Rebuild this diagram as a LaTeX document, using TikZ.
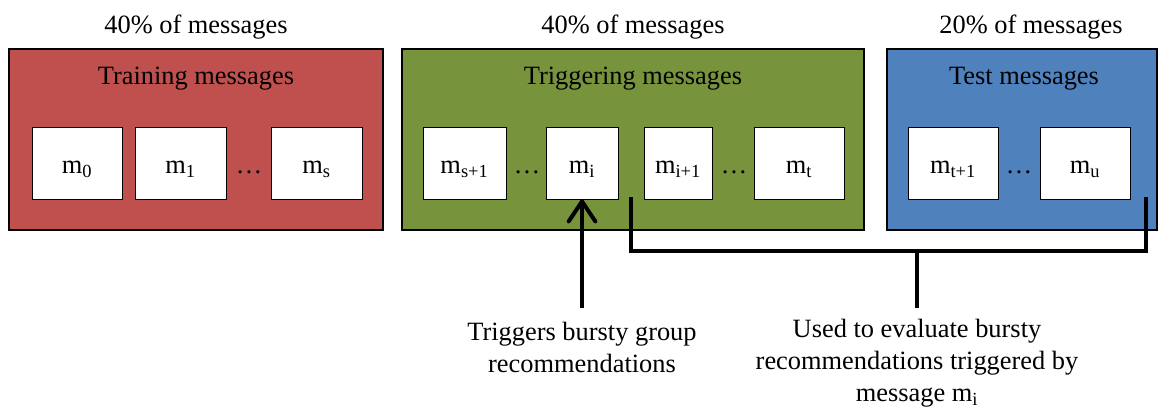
\documentclass[tikz,border=0pt]{standalone}
\usepackage{fontspec}
\setmainfont{Liberation Serif}
\usetikzlibrary{arrows.meta,fit}
\definecolor{trainred}{HTML}{C0504D}
\definecolor{triggreen}{HTML}{77933C}
\definecolor{testblue}{HTML}{4F81BD}
\begin{document}
\begin{tikzpicture}[x=0.75pt,y=-0.75pt,
  font=\fontsize{19.8}{24}\selectfont,
  group/.style={draw=black, line width=1.6pt, inner sep=0pt, fill=#1},
  msgbox/.style={draw=black, fill=white, line width=0.6pt, inner sep=0pt,
    minimum width=#1*0.75pt, minimum height=54pt,
    text height=15pt, text depth=0pt},
  lbl/.style={anchor=base, inner sep=0pt},
  dots/.style={anchor=base, inner sep=0pt},
  bar/.style={line width=3pt, line join=miter},
  pointer/.style={line width=3pt,
    -{Straight Barb[length=15pt, width=20pt, round, line width=3pt]}},
  note/.style={align=center, inner sep=0pt, anchor=base}]
\useasboundingbox (0,0) rectangle (1159,408);

% three partitions of the message stream
\node[group=trainred, fit={(9,49) (383,230)}] (train) {};
\node[group=triggreen, fit={(402,49) (864,230)}] (trig) {};
\node[group=testblue, fit={(887,49) (1157,230)}] (test) {};

% shares above each partition
\node[lbl] (trainpct) at (196,33) {40\% of messages};
\node[lbl] (trigpct) at (633,33) {40\% of messages};
\node[lbl] (testpct) at (1031,33) {20\% of messages};

% partition titles
\node[lbl] (traintitle) at (196,84) {Training messages};
\node[lbl] (trigtitle) at (633,84) {Triggering messages};
\node[lbl] (testtitle) at (1024,84) {Test messages};

% individual messages
\node[msgbox=90] (m0) at (77,163) {m\textsubscript{0}};
\node[msgbox=91] (m1) at (180.5,163) {m\textsubscript{1}};
\node[dots] (d1) at (249,173) {\ldots};
\node[msgbox=91] (ms) at (316.5,163) {m\textsubscript{s}};

\node[msgbox=83] (ms1) at (464.5,163) {m\textsubscript{s+1}};
\node[dots] (d2) at (527,173) {\ldots};
\node[msgbox=72] (mi) at (582,163) {m\textsubscript{i}};
\node[msgbox=68] (mi1) at (678,163) {m\textsubscript{i+1}};
\node[dots] (d3) at (734,173) {\ldots};
\node[msgbox=90] (mt) at (799,163) {m\textsubscript{t}};

\node[msgbox=90] (mt1) at (953,163) {m\textsubscript{t+1}};
\node[dots] (d4) at (1019,173) {\ldots};
\node[msgbox=90] (mu) at (1085,163) {m\textsubscript{u}};

% trigger arrow
\coordinate (trigfoot) at (582,308);
\draw[pointer] (trigfoot) -- (mi.south);

% evaluation bracket
\coordinate (evalL) at (631,197);
\coordinate (evalLc) at (631,251);
\coordinate (evalRc) at (1146,251);
\coordinate (evalR) at (1146,197);
\coordinate (evalmid) at (917,251);
\coordinate (evalfoot) at (917,308);
\draw[bar] (evalL) -- (evalLc) -- (evalRc) -- (evalR);
\draw[bar] (evalmid) -- (evalfoot);

% explanations (anchored at the baseline of the last line)
\node[note] (trignote) at (582,372) {Triggers bursty group\\recommendations};
\node[note] (evalnote) at (917,401) {Used to evaluate bursty\\recommendations triggered by\\message m\textsubscript{i}};
\end{tikzpicture}
\end{document}
